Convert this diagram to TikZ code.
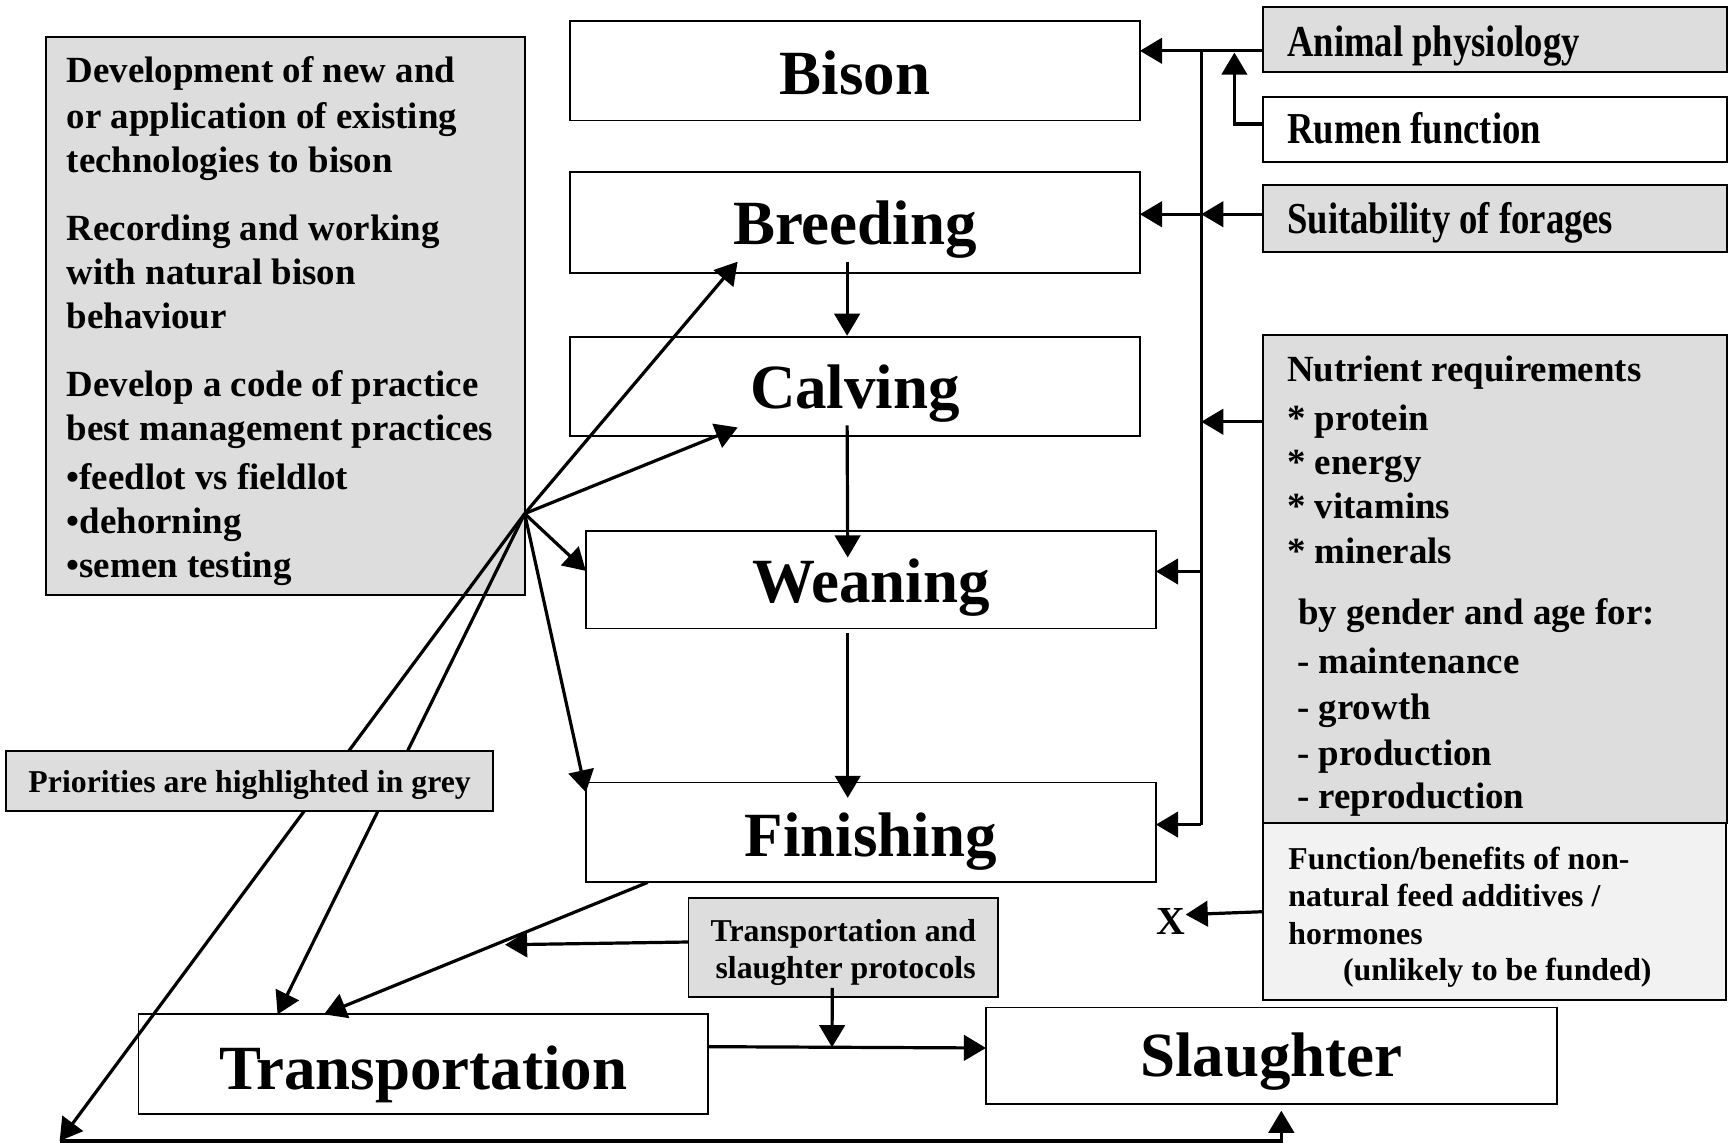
\documentclass[tikz,border=0pt]{standalone}
\usepackage{fontspec}
\setmainfont{Liberation Serif}
\newfontfamily\narrowserif[FakeStretch=0.83]{Liberation Serif}
\usetikzlibrary{arrows.meta,calc}

\definecolor{prio}{gray}{0.865}
\definecolor{pale}{gray}{0.95}

\begin{document}
\begin{tikzpicture}[x=0.5pt,y=-0.5pt,
  box/.style={draw,line width=0.8pt,rectangle,anchor=north west,inner sep=0pt,outer sep=0pt,fill=white},
  greybox/.style={box,fill=prio},
  big/.style={font=\fontsize{28.5}{34}\selectfont\bfseries,anchor=base,inner sep=0pt},
  body/.style={font=\fontsize{16.7}{20}\selectfont\bfseries,anchor=base west,inner sep=0pt},
  narrow/.style={font=\narrowserif\fontsize{20}{24}\selectfont\bfseries,anchor=base west,inner sep=0pt},
  note/.style={font=\fontsize{14.4}{17}\selectfont\bfseries,inner sep=0pt},
  link/.style={line width=1.45pt},
  arr/.style={link,-{Triangle[length=10pt,width=11.5pt]}}]

\fill[white] (0,0) rectangle (1568,1038);
\useasboundingbox (0,0) rectangle (1568,1038);

% research topics on the left
\node[greybox,minimum width=216.75pt,minimum height=252.65pt] (tech) at (41.5,33.3) {};
\foreach \yy/\tt [count=\i] in {
    75/{Development of new and},
    116/{or application of existing},
    156/{technologies to bison},
    217.5/{Recording and working},
    257.5/{with natural bison},
    297/{behaviour},
    359/{Develop a code of practice},
    398.5/{best management practices},
    443.5/{•feedlot vs fieldlot},
    483/{•dehorning},
    522.5/{•semen testing}}
  \node[body] (techline\i) at (60,\yy) {\tt};

% production chain
\node[box,minimum width=258.1pt,minimum height=44.95pt] (bison) at (515.8,19.2) {};
\node[box,minimum width=258.1pt,minimum height=45.5pt] (breed) at (515.8,155.9) {};
\node[box,minimum width=258.1pt,minimum height=45pt] (calve) at (515.8,305) {};
\node[box,minimum width=258.05pt,minimum height=44.15pt] (wean) at (530.4,480.7) {};
\node[box,minimum width=258.05pt,minimum height=45.25pt] (finish) at (530.4,708.3) {};
\node[box,minimum width=257.85pt,minimum height=45.25pt] (transp) at (125.3,918.3) {};
\node[box,minimum width=258.4pt,minimum height=43.75pt] (slaught) at (892.6,912) {};

\node[big] (bisonT) at (774,86) {Bison};
\node[big] (breedT) at (774,221) {Breeding};
\node[big] (calveT) at (774,370) {Calving};
\node[big] (weanT) at (788.5,545) {Weaning};
\node[big] (finishT) at (788.5,775) {Finishing};
\node[big] (transpT) at (383,986) {Transportation};
\node[big] (slaughtT) at (1151,975) {Slaughter};

% protocols
\node[greybox,minimum width=140.3pt,minimum height=44.5pt] (proto) at (623.2,813.3) {};
\node[note,anchor=base] (protoA) at (763.5,852) {Transportation and};
\node[note,anchor=base] (protoB) at (765.5,885.7) {slaughter protocols};

% nutrition and physiology topics on the right
\node[greybox,minimum width=209.9pt,minimum height=29.45pt] (phys) at (1143.7,6.6) {};
\node[box,minimum width=209.9pt,minimum height=29.75pt] (rumen) at (1143.7,87.5) {};
\node[greybox,minimum width=209.9pt,minimum height=30.45pt] (forage) at (1143.7,167.5) {};
\node[narrow] (physT) at (1165,51.5) {Animal physiology};
\node[narrow] (rumenT) at (1165,130) {Rumen function};
\node[narrow] (forageT) at (1165,211) {Suitability of forages};

\node[greybox,minimum width=209.9pt,minimum height=221.05pt] (nutr) at (1143.7,303.3) {};
\foreach \xx/\yy/\tt [count=\i] in {
    1165/345.5/{Nutrient requirements},
    1165/389.3/{* protein},
    1165/430/{* energy},
    1165/469.3/{* vitamins},
    1165/510/{* minerals},
    1175/565.8/{by gender and age for:},
    1174/609.6/{- maintenance},
    1174/651.8/{- growth},
    1174/692.6/{- production},
    1174/731.8/{- reproduction}}
  \node[body] (nutrline\i) at (\xx,\yy) {\tt};

\node[box,fill=pale,minimum width=209.5pt,minimum height=79.95pt] (func) at (1143.7,745.4) {};
\foreach \xx/\yy/\tt [count=\i] in {
    1166/787/{Function/benefits of non-},
    1166/821/{natural feed additives /},
    1166/855/{hormones},
    1215.5/888/{(unlikely to be funded)}}
  \node[note,anchor=base west] (funcline\i) at (\xx,\yy) {\tt};
\node[font=\fontsize{18}{20}\selectfont\bfseries,inner sep=0pt] (xmark) at (1060,834) {X};

% feed-in bus on the right
\coordinate (bustop) at (1087.5,46);
\coordinate (busbot) at (1087.5,746.5);
\draw[link] (bustop) -- (busbot);
\draw[arr] (phys.west |- bustop) -- (bison.east |- bustop);
\draw[arr] ([yshift=2.5pt]rumen.west) -| ([xshift=15pt,yshift=-0.8pt]bustop);
\coordinate (fg) at ($(forage.west)+(0,-4)$);
\draw[arr] (fg) -- (fg -| bustop);
\draw[arr] (fg -| bustop) -- (fg -| breed.east);
\coordinate (ng) at ($(nutr.north west)+(0,78.5)$);
\draw[arr] (ng) -- (ng -| bustop);
\coordinate (wg) at ($(wean.east)+(0,-7.5)$);
\draw[arr] (wg -| bustop) -- (wg);
\draw[arr] (busbot) -- (busbot -| finish.east);
\draw[arr] (func.west) -- ([yshift=3pt]xmark.east);

% stage to stage
\draw[arr] ([xshift=-3.5pt,yshift=5pt]breed.south) -- ([xshift=-3.5pt,yshift=0.5pt]calve.north);
\draw[arr] ([xshift=-3.5pt,yshift=5pt]calve.south) -- ([xshift=-10.5pt,yshift=-12pt]wean.north);
\draw[arr] ([xshift=-10.5pt,yshift=-2pt]wean.south) -- ([xshift=-10.5pt,yshift=-7pt]finish.north);
\draw[arr] ([xshift=28pt]finish.south west) -- ([xshift=84pt]transp.north west);
\coordinate (tsa) at ([yshift=8pt]transp.east);
\coordinate (tsb) at ([yshift=3.5pt]slaught.west);
\draw[arr] (tsa) -- (tsb);
\draw[arr] ([xshift=-5pt,yshift=4pt]proto.south) -- ($(tsa)!0.446!(tsb)$);
\coordinate (pg) at ($(proto.west)+(0,-5)$);
\draw[arr] (pg) -- ($(pg)+(-166,2.5)$);

% fan of management topics
\coordinate (hub) at (475,465);
\coordinate (corner) at (54,1033);
\draw[arr] (hub) -- ([xshift=76pt,yshift=5pt]breed.south west);
\draw[arr] (hub) -- ([xshift=76pt,yshift=4pt]calve.south west);
\draw[arr] (hub) -- ([yshift=4pt]wean.west);
\draw[arr] (hub) -- ([yshift=-4.5pt]finish.north west);
\draw[arr] (hub) -- ([xshift=63pt]transp.north west);
\draw[arr] (hub) -- (corner);
\draw[arr] (corner) -| ([xshift=4.5pt,yshift=-3pt]slaught.south);

% legend
\node[greybox,minimum width=220.75pt,minimum height=27.2pt] (legend) at (5.1,679.6) {};
\node[note,anchor=base] (legendT) at (226,717.6) {Priorities are highlighted in grey};

\end{tikzpicture}
\end{document}
